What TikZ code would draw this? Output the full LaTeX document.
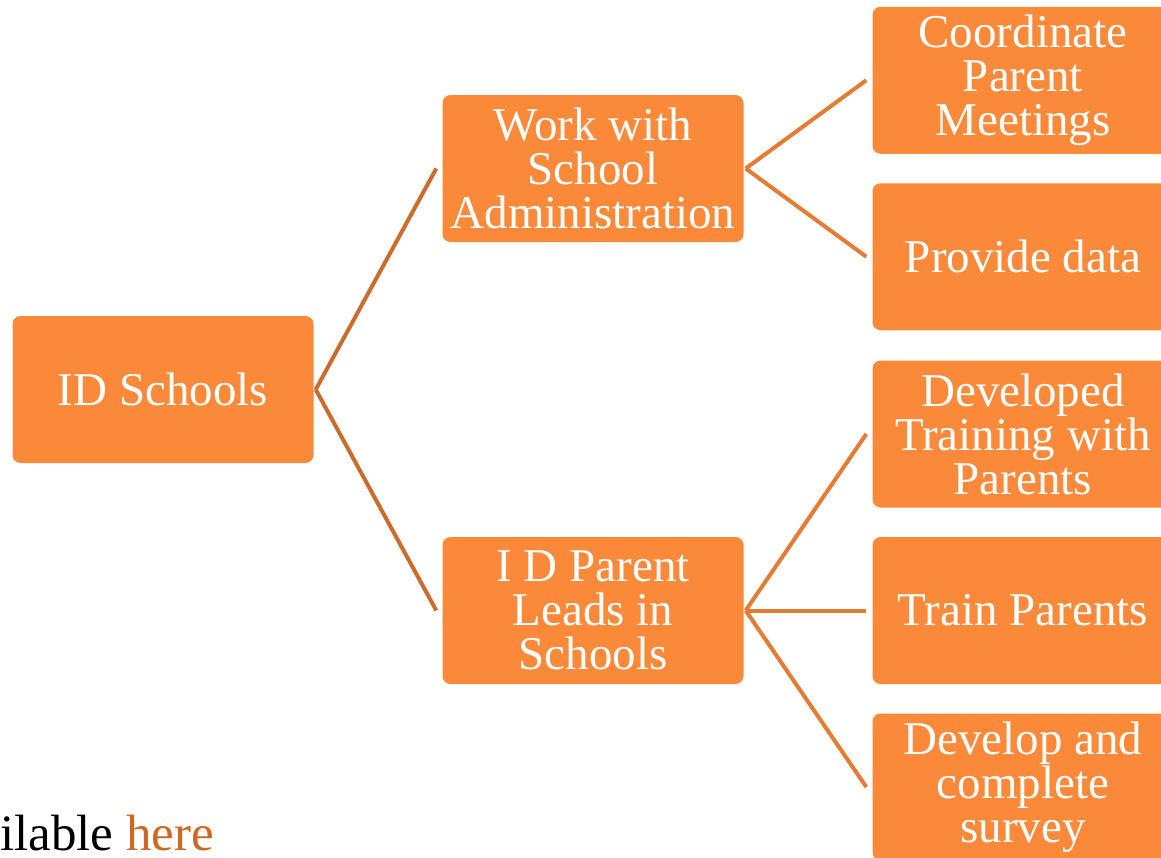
\documentclass[tikz,border=0pt]{standalone}
\usepackage{fontspec}
\setmainfont{Liberation Serif}
\usepackage{tikz}

\definecolor{boxorange}{RGB}{251,137,58}
\definecolor{lineone}{RGB}{204,108,44}
\definecolor{linetwo}{RGB}{228,124,52}
\definecolor{linkorange}{RGB}{208,104,36}

\begin{document}
\begin{tikzpicture}[
		x=1pt,y=1pt,
		grow'=right,
		level distance=430pt,
		every node/.style={rectangle,rounded corners=8pt,fill=boxorange,text=white,
			minimum width=301pt,minimum height=147pt,inner sep=0pt,align=center,
			font=\fontsize{47}{44}\selectfont},
		edge from parent path={([xshift=2pt]\tikzparentnode.east) -- ([xshift=-6pt]\tikzchildnode.west)},
		level 1/.style={sibling distance=442pt,
			edge from parent/.style={draw=lineone,line width=4pt}},
		level 2/.style={sibling distance=176.5pt,
			edge from parent/.style={draw=linetwo,line width=4pt}}
		]
		\useasboundingbox (0,0) rectangle (1161,-857);
		\clip (0,0) rectangle (1161,-857);
		\node (ids) at (163,-389.5) {ID Schools}
		child {node (work) {Work with\\School\\Administration}
			child {node (meet) {Coordinate\\Parent\\Meetings}}
			child {node (data) {Provide data}}
		}
		child {node (leads) {I D Parent\\Leads in\\Schools}
			child {node (devtrain) {Developed\\Training with\\Parents}}
			child {node (train) {Train Parents}}
			child {node (survey) {Develop and\\complete\\survey}}
		}
		;
		\node[fill=none,rounded corners=0pt,minimum width=0pt,minimum height=0pt,
			text=black,anchor=base west,font=\fontsize{51}{51}\selectfont] (avail)
			at (0,-850) {ilable \textcolor{linkorange}{here}};
	\end{tikzpicture}
\end{document}
